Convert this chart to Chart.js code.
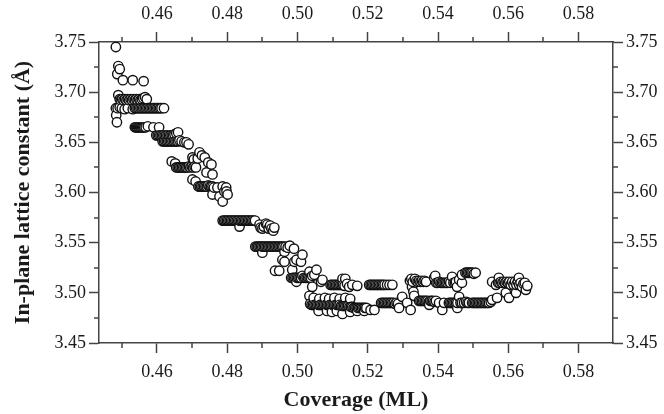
<!DOCTYPE html>
<html>
<head>
<meta charset="utf-8">
<script src="https://cdn.jsdelivr.net/npm/chart.js@4/dist/chart.umd.min.js"></script>
<style>
    html, body { margin: 0; padding: 0; background: #fff; }
    canvas { display: block; }
</style>
</head>
<body>
<canvas id="lattice" width="664" height="414"></canvas>
<script>
// Axis ranges and tick values
var xMin = 0.4435, xMax = 0.5898;
var yMin = 3.45, yMax = 3.75;
var majorX = [0.46, 0.48, 0.50, 0.52, 0.54, 0.56, 0.58];
var minorX = [0.45, 0.47, 0.49, 0.51, 0.53, 0.55, 0.57];
var majorY = [3.45, 3.50, 3.55, 3.60, 3.65, 3.70, 3.75];
var minorY = [3.475, 3.525, 3.575, 3.625, 3.675, 3.725];

// [coverage (ML), in-plane lattice constant (Å)]
// early growth, steep drop
var stageA = [
    [0.4483, 3.745],
    [0.4490, 3.726], [0.4494, 3.723], [0.4487, 3.718],
    [0.4503, 3.712], [0.4531, 3.712], [0.4562, 3.711],
    [0.4490, 3.697],
    [0.4494, 3.693], [0.4497, 3.692], [0.4501, 3.693], [0.4505, 3.692], [0.4509, 3.693], [0.4513, 3.692],
    [0.4517, 3.693], [0.4521, 3.692], [0.4525, 3.693], [0.4529, 3.692], [0.4533, 3.693], [0.4537, 3.692],
    [0.4541, 3.693], [0.4545, 3.692], [0.4549, 3.693], [0.4553, 3.692], [0.4557, 3.693], [0.4561, 3.694],
    [0.4566, 3.695], [0.4571, 3.693],
    [0.4483, 3.684], [0.4488, 3.684], [0.4494, 3.685], [0.4500, 3.684], [0.4508, 3.683], [0.4517, 3.684],
    [0.4531, 3.683], [0.4537, 3.684], [0.4541, 3.684], [0.4545, 3.684], [0.4549, 3.684], [0.4553, 3.684],
    [0.4557, 3.684], [0.4561, 3.684], [0.4565, 3.684], [0.4569, 3.684], [0.4573, 3.684], [0.4577, 3.684],
    [0.4581, 3.684], [0.4585, 3.684], [0.4589, 3.684], [0.4593, 3.684], [0.4597, 3.684], [0.4601, 3.684],
    [0.4605, 3.684], [0.4609, 3.684], [0.4613, 3.684], [0.4620, 3.684],
    [0.4484, 3.677], [0.4486, 3.670],
    [0.4537, 3.665], [0.4540, 3.665], [0.4543, 3.665], [0.4546, 3.665], [0.4549, 3.665], [0.4552, 3.665],
    [0.4555, 3.665], [0.4558, 3.665], [0.4561, 3.665], [0.4564, 3.665], [0.4568, 3.665], [0.4574, 3.666],
    [0.4590, 3.665], [0.4606, 3.665],
    [0.4598, 3.657], [0.4602, 3.657], [0.4606, 3.657], [0.4610, 3.657], [0.4614, 3.657], [0.4618, 3.657],
    [0.4622, 3.657], [0.4626, 3.657], [0.4630, 3.657], [0.4634, 3.657], [0.4638, 3.657], [0.4642, 3.657],
    [0.4646, 3.657], [0.4650, 3.658], [0.4655, 3.659], [0.4660, 3.660],
    [0.4616, 3.651], [0.4620, 3.651], [0.4624, 3.651], [0.4628, 3.651], [0.4632, 3.651], [0.4636, 3.651],
    [0.4640, 3.651], [0.4644, 3.651], [0.4648, 3.651], [0.4652, 3.651], [0.4656, 3.651], [0.4660, 3.651],
    [0.4664, 3.652], [0.4670, 3.651], [0.4678, 3.650], [0.4684, 3.650], [0.4690, 3.648]
];

// middle of the drop
var stageB = [
    [0.4642, 3.631], [0.4652, 3.629],
    [0.4655, 3.625], [0.4659, 3.625], [0.4663, 3.625], [0.4667, 3.625], [0.4671, 3.625], [0.4675, 3.625],
    [0.4679, 3.625], [0.4683, 3.625], [0.4687, 3.625], [0.4691, 3.626], [0.4695, 3.625], [0.4699, 3.626],
    [0.4703, 3.625], [0.4707, 3.626], [0.4711, 3.625],
    [0.4701, 3.635], [0.4705, 3.633], [0.4716, 3.634], [0.4721, 3.640], [0.4728, 3.637], [0.4736, 3.635],
    [0.4741, 3.620], [0.4746, 3.630], [0.4755, 3.628], [0.4758, 3.618],
    [0.4701, 3.613], [0.4710, 3.611],
    [0.4718, 3.606], [0.4722, 3.606], [0.4726, 3.606], [0.4730, 3.606], [0.4734, 3.606], [0.4738, 3.606],
    [0.4742, 3.606], [0.4746, 3.607], [0.4750, 3.606], [0.4754, 3.606], [0.4758, 3.606], [0.4762, 3.605],
    [0.4758, 3.598], [0.4772, 3.605], [0.4778, 3.596], [0.4787, 3.591], [0.4787, 3.606], [0.4792, 3.601],
    [0.4797, 3.605], [0.4798, 3.601], [0.4801, 3.598],
    [0.4787, 3.572], [0.4791, 3.572], [0.4795, 3.572], [0.4799, 3.572], [0.4803, 3.572], [0.4807, 3.572],
    [0.4811, 3.572], [0.4815, 3.572], [0.4819, 3.572], [0.4823, 3.572], [0.4827, 3.572], [0.4831, 3.572],
    [0.4835, 3.566], [0.4835, 3.572], [0.4839, 3.572], [0.4843, 3.572], [0.4847, 3.572], [0.4851, 3.572],
    [0.4855, 3.572], [0.4859, 3.572], [0.4863, 3.572], [0.4867, 3.572], [0.4871, 3.572], [0.4875, 3.572],
    [0.4879, 3.572],
    [0.4892, 3.568], [0.4895, 3.565], [0.4900, 3.564], [0.4904, 3.566], [0.4910, 3.569], [0.4914, 3.568],
    [0.4918, 3.564], [0.4922, 3.567], [0.4926, 3.564], [0.4931, 3.562], [0.4934, 3.565],
    [0.4880, 3.546], [0.4884, 3.546], [0.4888, 3.546], [0.4892, 3.546], [0.4896, 3.546], [0.4900, 3.540],
    [0.4900, 3.546], [0.4904, 3.546], [0.4908, 3.546], [0.4912, 3.546], [0.4916, 3.546], [0.4920, 3.546],
    [0.4924, 3.546], [0.4928, 3.546], [0.4932, 3.546], [0.4936, 3.546], [0.4940, 3.546], [0.4944, 3.546],
    [0.4948, 3.546], [0.4952, 3.546], [0.4956, 3.546], [0.4960, 3.546], [0.4963, 3.541], [0.4966, 3.546],
    [0.4972, 3.545], [0.4978, 3.547], [0.4990, 3.544],
    [0.4957, 3.533], [0.4963, 3.531], [0.4991, 3.531], [0.4997, 3.533], [0.5010, 3.531], [0.5014, 3.538],
    [0.4936, 3.522], [0.4948, 3.522],
    [0.4982, 3.515], [0.4985, 3.523], [0.4986, 3.515], [0.4990, 3.515], [0.4994, 3.515], [0.4997, 3.511],
    [0.4998, 3.515], [0.5002, 3.515], [0.5006, 3.515], [0.5010, 3.515], [0.5014, 3.517], [0.5018, 3.515],
    [0.5022, 3.515], [0.5026, 3.515], [0.5030, 3.515], [0.5034, 3.521], [0.5034, 3.515], [0.5038, 3.515],
    [0.5042, 3.517], [0.5042, 3.506], [0.5048, 3.518], [0.5054, 3.523], [0.5067, 3.511], [0.5071, 3.513]
];

// minimum region
var stageC = [
    [0.5094, 3.508], [0.5098, 3.508], [0.5102, 3.508], [0.5106, 3.508], [0.5110, 3.508], [0.5114, 3.508],
    [0.5118, 3.508], [0.5122, 3.508], [0.5126, 3.508], [0.5128, 3.514], [0.5130, 3.508], [0.5134, 3.507],
    [0.5136, 3.514], [0.5141, 3.509], [0.5147, 3.506], [0.5156, 3.508], [0.5170, 3.507],
    [0.5034, 3.497], [0.5036, 3.489], [0.5046, 3.495], [0.5062, 3.494], [0.5078, 3.495], [0.5090, 3.494],
    [0.5105, 3.495], [0.5120, 3.494], [0.5136, 3.495], [0.5150, 3.494],
    [0.5060, 3.482], [0.5084, 3.482], [0.5098, 3.481], [0.5112, 3.482], [0.5128, 3.479], [0.5150, 3.481],
    [0.5170, 3.482], [0.5190, 3.482], [0.5208, 3.483], [0.5219, 3.483],
    [0.5040, 3.488], [0.5044, 3.488], [0.5048, 3.488], [0.5052, 3.488], [0.5056, 3.488], [0.5060, 3.488],
    [0.5064, 3.488], [0.5068, 3.488], [0.5072, 3.488], [0.5076, 3.488], [0.5080, 3.488], [0.5084, 3.488],
    [0.5088, 3.488], [0.5092, 3.488], [0.5096, 3.488], [0.5100, 3.488], [0.5104, 3.488], [0.5108, 3.488],
    [0.5112, 3.488], [0.5116, 3.488], [0.5120, 3.488], [0.5124, 3.487], [0.5128, 3.487], [0.5132, 3.487],
    [0.5136, 3.487], [0.5140, 3.487], [0.5144, 3.487], [0.5148, 3.486], [0.5152, 3.486], [0.5156, 3.486],
    [0.5160, 3.485], [0.5164, 3.485], [0.5168, 3.485], [0.5172, 3.485], [0.5176, 3.485], [0.5180, 3.485],
    [0.5184, 3.485], [0.5188, 3.485], [0.5192, 3.485], [0.5196, 3.485],
    [0.5204, 3.508], [0.5208, 3.508], [0.5212, 3.508], [0.5216, 3.508], [0.5220, 3.508], [0.5224, 3.508],
    [0.5228, 3.508], [0.5232, 3.508], [0.5236, 3.508], [0.5240, 3.508], [0.5244, 3.508], [0.5248, 3.508],
    [0.5255, 3.508], [0.5262, 3.508], [0.5270, 3.508],
    [0.5238, 3.490], [0.5242, 3.490], [0.5246, 3.490], [0.5250, 3.490], [0.5254, 3.490], [0.5258, 3.490],
    [0.5262, 3.490], [0.5266, 3.490], [0.5270, 3.490], [0.5274, 3.490], [0.5278, 3.489], [0.5282, 3.490],
    [0.5286, 3.489], [0.5289, 3.485], [0.5298, 3.496], [0.5312, 3.490], [0.5322, 3.483]
];

// plateau
var stageD = [
    [0.5320, 3.512], [0.5324, 3.514], [0.5326, 3.506], [0.5328, 3.511], [0.5330, 3.501], [0.5332, 3.497],
    [0.5334, 3.514], [0.5338, 3.512], [0.5342, 3.511], [0.5346, 3.512], [0.5350, 3.511], [0.5354, 3.512],
    [0.5358, 3.511], [0.5362, 3.512], [0.5366, 3.511], [0.5389, 3.515], [0.5392, 3.517],
    [0.5346, 3.492], [0.5350, 3.492], [0.5354, 3.492], [0.5358, 3.492], [0.5362, 3.492], [0.5366, 3.492],
    [0.5370, 3.492], [0.5374, 3.491], [0.5375, 3.488], [0.5378, 3.492], [0.5382, 3.492], [0.5386, 3.492],
    [0.5390, 3.491], [0.5394, 3.492], [0.5403, 3.490], [0.5412, 3.483], [0.5417, 3.490],
    [0.5431, 3.490], [0.5435, 3.490], [0.5439, 3.490], [0.5443, 3.490], [0.5447, 3.490], [0.5451, 3.490],
    [0.5455, 3.485], [0.5455, 3.490], [0.5460, 3.496], [0.5464, 3.490], [0.5468, 3.490], [0.5474, 3.490],
    [0.5480, 3.491], [0.5484, 3.490], [0.5488, 3.490],
    [0.5395, 3.510], [0.5399, 3.510], [0.5403, 3.511], [0.5407, 3.510], [0.5411, 3.510], [0.5415, 3.510],
    [0.5419, 3.510], [0.5423, 3.510], [0.5427, 3.510], [0.5431, 3.511], [0.5435, 3.510], [0.5440, 3.516],
    [0.5444, 3.510], [0.5448, 3.510], [0.5451, 3.511], [0.5454, 3.506], [0.5460, 3.513], [0.5468, 3.510],
    [0.5468, 3.518],
    [0.5478, 3.520], [0.5482, 3.520], [0.5486, 3.520], [0.5490, 3.520], [0.5494, 3.520], [0.5498, 3.520],
    [0.5502, 3.519], [0.5507, 3.520],
    [0.5497, 3.490], [0.5501, 3.490], [0.5505, 3.490], [0.5509, 3.490], [0.5513, 3.490], [0.5517, 3.490],
    [0.5521, 3.490], [0.5525, 3.490], [0.5529, 3.490], [0.5533, 3.490], [0.5537, 3.490], [0.5541, 3.490],
    [0.5545, 3.490], [0.5550, 3.491], [0.5554, 3.493], [0.5568, 3.495],
    [0.5554, 3.511], [0.5565, 3.508], [0.5571, 3.510], [0.5573, 3.515], [0.5575, 3.510], [0.5579, 3.511],
    [0.5583, 3.510], [0.5587, 3.511], [0.5591, 3.510], [0.5593, 3.500], [0.5595, 3.511], [0.5599, 3.510],
    [0.5602, 3.495], [0.5603, 3.511], [0.5607, 3.508], [0.5611, 3.511], [0.5615, 3.508], [0.5619, 3.511],
    [0.5622, 3.500], [0.5623, 3.508], [0.5627, 3.511], [0.5630, 3.515], [0.5631, 3.508], [0.5635, 3.510],
    [0.5639, 3.506], [0.5643, 3.509], [0.5647, 3.510], [0.5650, 3.503], [0.5654, 3.507]
];

var serif = "'Liberation Serif', 'Times New Roman', serif";
var axisColor = '#444';
var textColor = '#1a1a1a';

// draw in order of coverage so later circles sit on top
var points = [].concat(stageA, stageB, stageC, stageD)
    .map(function (p) { return { x: p[0], y: p[1] }; })
    .sort(function (a, b) { return a.x - b.x; });

function useTicks(values) {
    return function (scale) {
        scale.ticks = values.map(function (v) { return { value: v }; });
    };
}

function makeAxis(pos, min, max, values, size, pad) {
    var horizontal = (pos === 'top' || pos === 'bottom');
    return {
        type: 'linear',
        axis: horizontal ? 'x' : 'y',
        position: pos,
        min: min,
        max: max,
        afterBuildTicks: useTicks(values),
        afterFit: function (scale) {
            if (horizontal) scale.height = size; else scale.width = size;
        },
        ticks: {
            font: { family: serif, size: 18 },
            color: textColor,
            padding: pad,
            maxRotation: 0,
            autoSkip: false,
            callback: function (v) { return v.toFixed(2); }
        },
        grid: {
            drawOnChartArea: false,
            tickLength: 10,
            tickColor: axisColor,
            tickWidth: 1.5
        },
        border: { color: axisColor, width: 1.5 },
        title: { display: false }
    };
}

var xAxis = makeAxis('bottom', xMin, xMax, majorX, 71, 8);
xAxis.title = {
    display: true,
    text: 'Coverage (ML)',
    color: textColor,
    font: { family: serif, size: 22, weight: 'bold' },
    padding: { top: 0, bottom: 0 }
};
var yAxis = makeAxis('left', yMin, yMax, majorY, 99, 3);
yAxis.title = {
    display: true,
    text: 'In-plane lattice constant (Å)',
    color: textColor,
    font: { family: serif, size: 22, weight: 'bold' },
    padding: { top: 10, bottom: 0 }
};

// short unlabeled ticks between the labeled ones
var minorTicks = {
    id: 'minorTicks',
    afterDraw: function (chart) {
        var ctx = chart.ctx;
        var s;
        ctx.save();
        ctx.strokeStyle = axisColor;
        ctx.lineWidth = 1.5;
        ctx.beginPath();
        s = chart.scales.x;
        minorX.forEach(function (v) {
            var p = Math.round(s.getPixelForValue(v));
            ctx.moveTo(p, s.top); ctx.lineTo(p, s.top + 5);
        });
        s = chart.scales.x2;
        minorX.forEach(function (v) {
            var p = Math.round(s.getPixelForValue(v));
            ctx.moveTo(p, s.bottom); ctx.lineTo(p, s.bottom - 5);
        });
        s = chart.scales.y;
        minorY.forEach(function (v) {
            var p = Math.round(s.getPixelForValue(v));
            ctx.moveTo(s.right, p); ctx.lineTo(s.right - 5, p);
        });
        s = chart.scales.y2;
        minorY.forEach(function (v) {
            var p = Math.round(s.getPixelForValue(v));
            ctx.moveTo(s.left, p); ctx.lineTo(s.left + 5, p);
        });
        ctx.stroke();
        ctx.restore();
    }
};

var ctx = document.getElementById('lattice').getContext('2d');
var latticeChart = new Chart(ctx, {
    type: 'scatter',
    data: {
        datasets: [{
            label: 'In-plane lattice constant',
            data: points,
            pointRadius: 4.7,
            pointBorderWidth: 1.4,
            borderColor: '#111',
            backgroundColor: '#fff',
            pointHoverRadius: 4.7
        }]
    },
    options: {
        responsive: false,
        animation: false,
        layout: { padding: 0 },
        plugins: {
            legend: { display: false },
            tooltip: { enabled: false }
        },
        scales: {
            x: xAxis,
            x2: makeAxis('top', xMin, xMax, majorX, 42, 7),
            y: yAxis,
            y2: makeAxis('right', yMin, yMax, majorY, 51, 3)
        }
    },
    plugins: [minorTicks]
});
</script>
</body>
</html>
